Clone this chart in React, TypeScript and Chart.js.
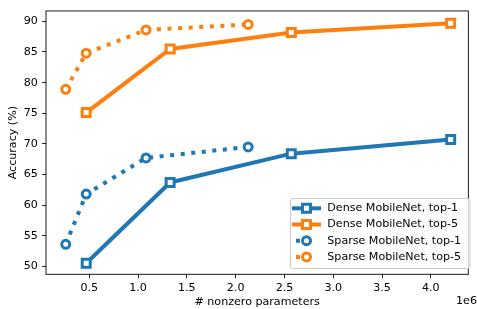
import React, { useEffect, useRef } from "react";
import { Chart, registerables } from "chart.js";

Chart.register(...registerables);

// ---- data ----
const denseParams = [469000, 1329000, 2570000, 4203000];
const denseTop1 = [50.5, 63.7, 68.4, 70.7];
const denseTop5 = [75.1, 85.5, 88.2, 89.7];
const sparseParams = [259000, 469000, 1082000, 2128000];
const sparseTop1 = [53.6, 61.8, 67.7, 69.5];
const sparseTop5 = [78.9, 84.8, 88.6, 89.5];
const seriesLabels = [
  "Dense MobileNet, top-1",
  "Dense MobileNet, top-5",
  "Sparse MobileNet, top-1",
  "Sparse MobileNet, top-5",
];
const xTickValues = [500000, 1000000, 1500000, 2000000, 2500000, 3000000, 3500000, 4000000];
const yTickValues = [50, 55, 60, 65, 70, 75, 80, 85, 90];
const xTitle = "# nonzero parameters";
const yTitle = "Accuracy (%)";
const offsetText = "1e6";

const BLUE = "#1f77b4";
const ORANGE = "#ff7f0e";
const FONT = "DejaVu Sans";
const FS = 11.1;

const toPts = (xs: number[], ys: number[]) => xs.map((x, i) => ({ x, y: ys[i] }));

const framePlugin = {
  id: "frameLegend",
  afterDraw(chart: any) {
    const { ctx, chartArea } = chart;
    ctx.save();
    // frame
    ctx.strokeStyle = "#000";
    ctx.lineWidth = 0.9;
    ctx.setLineDash([]);
    ctx.strokeRect(chartArea.left, chartArea.top, chartArea.right - chartArea.left, chartArea.bottom - chartArea.top);

    // offset text
    ctx.fillStyle = "#000";
    ctx.font = `${FS}px "${FONT}"`;
    ctx.textAlign = "center";
    ctx.textBaseline = "middle";
    ctx.fillText(offsetText, 466.5, 301.5);

    // legend box
    const bx = 290.5, by = 198.5, bw = 179.5, bh = 70, r = 2.5;
    ctx.beginPath();
    ctx.moveTo(bx + r, by);
    ctx.lineTo(bx + bw - r, by);
    ctx.arcTo(bx + bw, by, bx + bw, by + r, r);
    ctx.lineTo(bx + bw, by + bh - r);
    ctx.arcTo(bx + bw, by + bh, bx + bw - r, by + bh, r);
    ctx.lineTo(bx + r, by + bh);
    ctx.arcTo(bx, by + bh, bx, by + bh - r, r);
    ctx.lineTo(bx, by + r);
    ctx.arcTo(bx, by, bx + r, by, r);
    ctx.closePath();
    ctx.fillStyle = "rgba(255,255,255,0.8)";
    ctx.fill();
    ctx.strokeStyle = "#cccccc";
    ctx.lineWidth = 1;
    ctx.stroke();

    const colors = [BLUE, ORANGE, BLUE, ORANGE];
    const solid = [true, true, false, false];
    const rowY = [208.3, 224.5, 240.7, 256.9];
    const mx = 306.5;
    for (let i = 0; i < 4; i++) {
      const y = rowY[i];
      ctx.strokeStyle = colors[i];
      ctx.lineWidth = 4;
      ctx.lineCap = "butt";
      ctx.beginPath();
      if (solid[i]) {
        ctx.setLineDash([]);
        ctx.moveTo(292, y);
        ctx.lineTo(321, y);
      } else {
        ctx.setLineDash([4, 6.6]);
        ctx.moveTo(296, y);
        ctx.lineTo(316, y);
      }
      ctx.stroke();
      ctx.setLineDash([]);
      ctx.lineWidth = 3;
      ctx.fillStyle = "#fff";
      ctx.beginPath();
      if (solid[i]) {
        ctx.rect(mx - 4, y - 4, 8, 8);
      } else {
        ctx.arc(mx, y, 4, 0, Math.PI * 2);
      }
      ctx.fill();
      ctx.stroke();
      ctx.fillStyle = "#000";
      ctx.font = `${FS}px "${FONT}"`;
      ctx.textAlign = "left";
      ctx.textBaseline = "middle";
      ctx.fillText(seriesLabels[i], 327.3, y);
    }
    ctx.restore();
  },
};

export default function App() {
  const ref = useRef<HTMLCanvasElement | null>(null);
  useEffect(() => {
    if (!ref.current) return;
    Chart.defaults.font.family = FONT;
    Chart.defaults.font.size = FS;
    Chart.defaults.color = "#000";
    const common = {
      borderWidth: 4,
      pointBackgroundColor: "#fff",
      pointBorderWidth: 3,
      pointHoverRadius: 5,
      fill: false,
      tension: 0,
      showLine: true,
    };
    const chart = new Chart(ref.current, {
      type: "scatter",
      data: {
        datasets: [
          {
            ...common,
            label: seriesLabels[0],
            data: toPts(denseParams, denseTop1),
            borderColor: BLUE,
            pointBorderColor: BLUE,
            pointStyle: "rect",
            pointRadius: 5.66,
            order: 4,
          },
          {
            ...common,
            label: seriesLabels[1],
            data: toPts(denseParams, denseTop5),
            borderColor: ORANGE,
            pointBorderColor: ORANGE,
            pointStyle: "rect",
            pointRadius: 5.66,
            order: 3,
          },
          {
            ...common,
            label: seriesLabels[2],
            data: toPts(sparseParams, sparseTop1),
            borderColor: BLUE,
            pointBorderColor: BLUE,
            pointStyle: "circle",
            pointRadius: 4,
            borderDash: [4, 6.6],
            borderCapStyle: "butt",
            order: 2,
          },
          {
            ...common,
            label: seriesLabels[3],
            data: toPts(sparseParams, sparseTop5),
            borderColor: ORANGE,
            pointBorderColor: ORANGE,
            pointStyle: "circle",
            pointRadius: 4,
            borderDash: [4, 6.6],
            borderCapStyle: "butt",
            order: 1,
          },
        ],
      },
      options: {
        animation: false,
        responsive: false,
        maintainAspectRatio: false,
        devicePixelRatio: 1,
        layout: { padding: { top: 6.7, right: 3, left: 0, bottom: 0 } },
        plugins: {
          legend: { display: false },
          tooltip: { enabled: false },
        },
        scales: {
          x: {
            type: "linear",
            min: 57000,
            max: 4384000,
            afterBuildTicks: (scale: any) => {
              scale.ticks = xTickValues.map((v) => ({ value: v }));
            },
            afterFit: (scale: any) => {
              scale.height = 34.7;
            },
            ticks: {
              autoSkip: false,
              maxRotation: 0,
              padding: 3.3,
              color: "#000",
              font: { size: FS, family: FONT },
              callback: (v: any) => (Number(v) / 1e6).toFixed(1),
            },
            grid: {
              display: true,
              drawOnChartArea: false,
              drawTicks: true,
              tickLength: 3.9,
              color: "#000",
              lineWidth: 0.9,
            },
            border: { display: false },
            title: {
              display: true,
              text: xTitle,
              color: "#000",
              font: { size: FS, family: FONT },
              padding: { top: 0, bottom: 0 },
            },
          },
          y: {
            type: "linear",
            min: 48.7,
            max: 91.7,
            afterBuildTicks: (scale: any) => {
              scale.ticks = yTickValues.map((v) => ({ value: v }));
            },
            afterFit: (scale: any) => {
              scale.width = 46;
            },
            ticks: {
              autoSkip: false,
              padding: 4.3,
              color: "#000",
              font: { size: FS, family: FONT },
              callback: (v: any) => String(v),
            },
            grid: {
              display: true,
              drawOnChartArea: false,
              drawTicks: true,
              tickLength: 3.9,
              color: "#000",
              lineWidth: 0.9,
            },
            border: { display: false },
            title: {
              display: true,
              text: yTitle,
              color: "#000",
              font: { size: FS, family: FONT },
              padding: { top: 6.7, bottom: 0 },
            },
          },
        },
      },
      plugins: [framePlugin],
    } as any);
    return () => chart.destroy();
  }, []);
  return (
    <div style={{ position: "absolute", left: 0, top: 0, width: 477, height: 309, background: "#fff" }}>
      <canvas ref={ref} width={477} height={309} style={{ width: 477, height: 309, display: "block" }} />
    </div>
  );
}
